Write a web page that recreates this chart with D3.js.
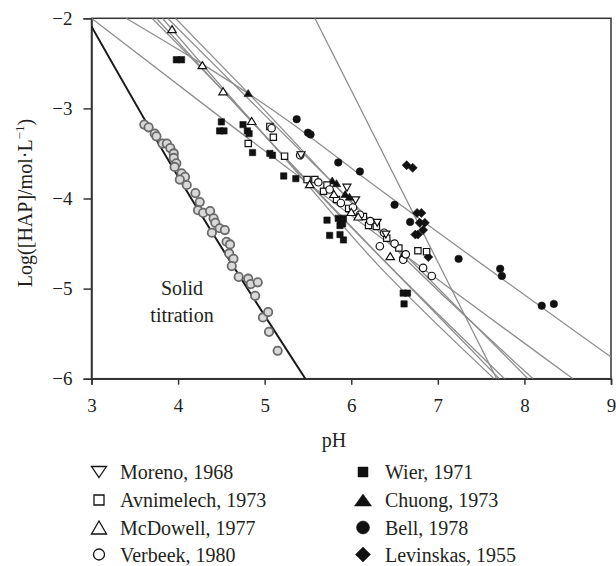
<!DOCTYPE html>
<html lang="en">
<head>
<meta charset="UTF-8" />
<title>HAP solubility vs pH</title>
<style>
  body { margin: 0; background: #fff; }
  svg text { font-family: "Liberation Serif", "DejaVu Serif", serif; fill: #231f20; }
</style>
</head>
<body>
<svg id="chart" width="616" height="566"></svg>
<script src="https://d3js.org/d3.v7.min.js"></script>
<script>
// axis ticks
const xTicks = [3, 4, 5, 6, 7, 8, 9];
const yTicks = [-6, -5, -4, -3, -2];

// solid titration points (grey rings)
const solidPts = [[3.61,-3.18],[3.66,-3.21],[3.73,-3.28],[3.75,-3.31],[3.82,-3.39],[3.87,-3.39],[3.91,-3.44],[3.95,-3.50],[3.95,-3.55],[3.98,-3.61],[3.96,-3.65],[4.04,-3.72],[4.08,-3.76],[4.02,-3.79],[4.10,-3.85],[4.20,-3.94],[4.25,-4.04],[4.23,-4.13],[4.29,-4.16],[4.37,-4.14],[4.41,-4.22],[4.43,-4.27],[4.39,-4.38],[4.48,-4.33],[4.54,-4.35],[4.56,-4.48],[4.60,-4.51],[4.59,-4.61],[4.64,-4.67],[4.62,-4.75],[4.70,-4.87],[4.81,-4.89],[4.84,-4.95],[4.92,-4.93],[4.89,-5.08],[4.98,-5.32],[5.04,-5.26],[5.05,-5.48],[5.15,-5.69]];
const solidLine = [[3.0,-2.09],[4.02,-3.79],[5.47,-6.0]];

// literature data
const morenoPts = [[5.42,-3.52],[5.95,-3.88],[6.05,-4.02],[6.30,-4.27],[6.40,-4.40]];
const avnimelechPts = [[4.81,-3.39],[5.10,-3.32],[5.06,-3.20],[5.23,-3.53],[5.49,-3.79],[5.58,-3.79],[5.68,-3.92],[5.72,-3.85],[5.83,-4.01],[5.97,-4.11],[6.14,-4.20],[6.20,-4.30],[6.29,-4.31],[6.41,-4.44],[6.55,-4.55],[6.77,-4.58],[6.87,-4.59]];
const mcdowellPts = [[3.93,-2.12],[4.28,-2.52],[4.52,-2.81],[4.85,-3.14],[5.52,-3.84],[5.80,-3.95],[6.00,-4.15],[6.08,-4.20],[6.45,-4.64]];
const verbeekPts = [[5.08,-3.22],[5.41,-3.52],[5.62,-3.82],[5.75,-3.90],[5.88,-4.05],[6.02,-4.10],[6.10,-4.18],[6.22,-4.25],[6.33,-4.53],[6.38,-4.38],[6.50,-4.50],[6.60,-4.68],[6.63,-4.62],[6.83,-4.77],[6.93,-4.86]];
const wierPts = [[3.98,-2.46],[4.04,-2.46],[4.50,-3.15],[4.48,-3.25],[4.53,-3.25],[4.75,-3.18],[4.80,-3.25],[4.82,-3.28],[4.86,-3.49],[5.06,-3.50],[5.09,-3.52],[5.22,-3.75],[5.36,-3.78],[5.72,-4.24],[5.75,-4.41],[5.85,-4.22],[5.88,-4.25],[5.91,-4.22],[5.87,-4.30],[5.90,-4.28],[5.87,-4.40],[5.91,-4.46],[6.60,-5.05],[6.65,-5.05],[6.61,-5.17]];
const chuongPts = [[4.81,-2.83],[5.78,-3.80],[5.83,-3.83],[5.93,-3.95],[5.98,-3.98],[6.60,-4.62]];
const bellPts = [[5.37,-3.12],[5.50,-3.27],[5.53,-3.29],[5.85,-3.60],[6.10,-3.70],[6.50,-4.07],[6.68,-4.26],[7.24,-4.67],[7.72,-4.78],[7.74,-4.86],[8.20,-5.19],[8.34,-5.17]];
const levinskasPts = [[6.64,-3.63],[6.71,-3.66],[6.76,-4.16],[6.81,-4.16],[6.79,-4.27],[6.85,-4.27],[6.83,-4.35],[6.74,-4.40],[6.77,-4.40],[6.89,-4.65]];

// fitted solubility curves (grey)
const fitLines = [
  [[3.00,-2.0],[4.60,-3.18],[8.56,-6.0]],
  [[3.40,-2.0],[5.29,-3.15],[6.19,-3.80],[9.0,-5.76]],
  [[3.70,-2.0],[4.85,-3.14],[6.34,-4.77],[7.65,-6.0]],
  [[3.75,-2.0],[4.90,-3.20],[6.34,-4.65],[7.71,-6.0]],
  [[3.82,-2.0],[5.00,-3.30],[7.77,-6.0]],
  [[3.88,-2.0],[6.71,-4.71],[8.04,-6.0]],
  [[3.97,-2.0],[4.81,-2.83],[6.71,-4.75],[8.10,-6.0]],
  [[5.58,-2.0],[7.68,-6.0]]
];

const legendLeft = ["Moreno, 1968", "Avnimelech, 1973", "McDowell, 1977", "Verbeek, 1980"];
const legendRight = ["Wier, 1971", "Chuong, 1973", "Bell, 1978", "Levinskas, 1955"];

const svg = d3.select("#chart");
const padL = 91.5, padR = 611, padT = 18.3, padB = 378.7;

const x = d3.scaleLinear().domain([3, 9]).range([padL, padR]);
const y = d3.scaleLinear().domain([-6, -2]).range([padB, padT]);

svg.append("defs").append("clipPath").attr("id", "plotclip")
  .append("rect").attr("x", padL).attr("y", padT)
  .attr("width", padR - padL).attr("height", padB - padT);

// frame
svg.append("rect")
  .attr("x", padL).attr("y", padT)
  .attr("width", padR - padL).attr("height", padB - padT)
  .attr("fill", "none").attr("stroke", "#333").attr("stroke-width", 1.5);

// axes
const fmt = d3.format("d");
const gx = svg.append("g").attr("transform", `translate(0,${padB})`)
  .call(d3.axisBottom(x).tickValues(xTicks).tickSize(6).tickPadding(14).tickFormat(fmt));
const gy = svg.append("g").attr("transform", `translate(${padL},0)`)
  .call(d3.axisLeft(y).tickValues(yTicks).tickSize(8).tickPadding(11).tickFormat(fmt));
[gx, gy].forEach((g) => {
  g.select(".domain").attr("stroke", "#333").attr("stroke-width", 1.5);
  g.selectAll(".tick line").attr("stroke", "#333").attr("stroke-width", 1.5);
  g.selectAll(".tick text").style("font-size", "19px")
    .style("font-family", '"Liberation Serif", serif').attr("fill", "#231f20");
});

// axis titles
svg.append("text").attr("x", 334).attr("y", 447)
  .attr("text-anchor", "middle").style("font-size", "20px").text("pH");

const yl = svg.append("text")
  .attr("transform", "translate(32,203) rotate(-90)")
  .attr("text-anchor", "middle").style("font-size", "20px");
yl.append("tspan").text("Log([HAP]/mol·L");
yl.append("tspan").attr("dy", -8).style("font-size", "13px").text("−1");
yl.append("tspan").attr("dy", 8).text(")");

// curves
const plot = svg.append("g").attr("clip-path", "url(#plotclip)");
const line = d3.line().x((d) => x(d[0])).y((d) => y(d[1])).curve(d3.curveMonotoneX);

fitLines.forEach((pts) => {
  plot.append("path").attr("d", line(pts))
    .attr("fill", "none").attr("stroke", "#8e8e8e").attr("stroke-width", 1.3);
});
plot.append("path").attr("d", line(solidLine))
  .attr("fill", "none").attr("stroke", "#1a1a1a").attr("stroke-width", 2);

// marker shapes
function triPath(w, h, down) {
  const s = down ? -1 : 1;
  return `M0,${-s * h / 2}L${w / 2},${s * h / 2}L${-w / 2},${s * h / 2}Z`;
}
const shapes = {
  down: (k) => triPath(8 * k, 7 * k, true),
  up: (k) => triPath(8.5 * k, 7 * k, false),
  square: (k) => d3.symbol(d3.symbolSquare, 40 * k * k)(),
  circle: (k) => d3.symbol(d3.symbolCircle, 44 * k * k)(),
  diamond: (k) => `M0,${-4.5 * k}L${4.5 * k},0L0,${4.5 * k}L${-4.5 * k},0Z`
};

function drawPts(pts, shape, filled) {
  plot.append("g").selectAll("path").data(pts).join("path")
    .attr("transform", (d) => `translate(${x(d[0])},${y(d[1])})`)
    .attr("d", shapes[shape](1))
    .attr("fill", filled ? "#111" : "#fff")
    .attr("stroke", "#111").attr("stroke-width", filled ? 0.6 : 1.2);
}

// solid titration rings
plot.append("g").selectAll("circle").data(solidPts).join("circle")
  .attr("cx", (d) => x(d[0])).attr("cy", (d) => y(d[1])).attr("r", 4.2)
  .attr("fill", "#d9d9d9").attr("stroke", "#6a6a6a").attr("stroke-width", 1.8);

drawPts(wierPts, "square", true);
drawPts(bellPts, "circle", true);
drawPts(levinskasPts, "diamond", true);
drawPts(chuongPts, "up", true);
drawPts(avnimelechPts, "square", false);
drawPts(verbeekPts, "circle", false);
drawPts(morenoPts, "down", false);
drawPts(mcdowellPts, "up", false);

svg.append("text").attr("text-anchor", "middle").style("font-size", "20px")
  .selectAll("tspan").data(["Solid", "titration"]).join("tspan")
  .attr("x", 182).attr("y", (d, i) => 295 + i * 27).text((d) => d);

// legend
const legendShapes = [
  [triPath(15, 11, true), false], [d3.symbol(d3.symbolSquare, 100)(), false],
  [triPath(15, 13, false), false], [d3.symbol(d3.symbolCircle, 95)(), false],
  [d3.symbol(d3.symbolSquare, 100)(), true], [triPath(17, 12, false), true],
  [d3.symbol(d3.symbolCircle, 133)(), true], ["M0,-7.5L7.5,0L0,7.5L-7.5,0Z", true]
];
const legendRowY = [472, 500, 527.5, 554.5];

legendLeft.concat(legendRight).forEach((label, i) => {
  const col = i < 4 ? 0 : 1;
  const row = i % 4;
  const cy = legendRowY[row];
  const sx = col === 0 ? 99 : 363;
  const tx = col === 0 ? 120 : 385;
  const [d, filled] = legendShapes[i];
  svg.append("path").attr("d", d).attr("transform", `translate(${sx},${cy})`)
    .attr("fill", filled ? "#111" : "#fff").attr("stroke", "#111")
    .attr("stroke-width", filled ? 0.5 : 1.3);
  svg.append("text").attr("x", tx).attr("y", cy + 7)
    .style("font-size", "20px").text(label);
});
</script>
</body>
</html>
